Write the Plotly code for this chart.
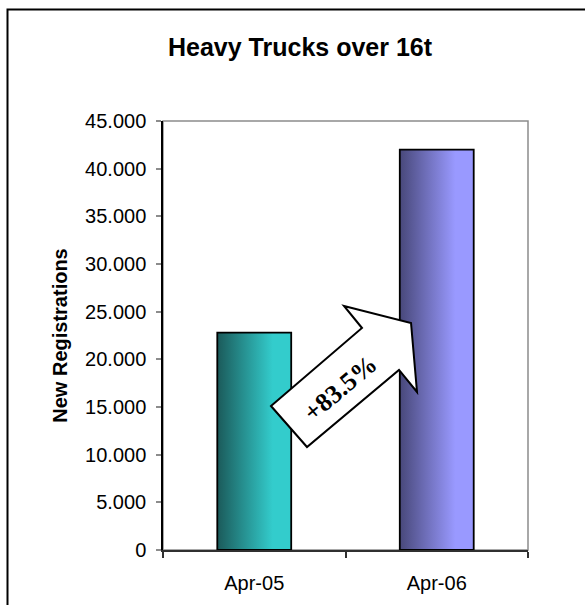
import plotly.graph_objects as go

categories = ["Apr-05", "Apr-06"]
values = [22800, 42000]
y_ticks = [0, 5000, 10000, 15000, 20000, 25000, 30000, 35000, 40000, 45000]
growth_label = "+83.5%"
title_text = "Heavy Trucks over 16t"
y_title = "New Registrations"

dark_colors = ["#1b5a5a", "#48487a"]
light_colors = ["#33cccc", "#9999ff"]

W, H = 585, 605
L, R, T, B = 163, 528, 121, 550


def px(x):
    return (x - L) / (R - L)


def py(y):
    return (B - y) / (B - T)


bar_w = 0.405
xs = list(range(len(categories)))

fig = go.Figure()

fig.add_trace(go.Bar(
    x=xs, y=values, width=bar_w,
    marker=dict(color="rgba(0,0,0,0)", line=dict(width=0)),
    showlegend=False,
))

# gradient-filled bars with outlines, built from the data values
for i, v in enumerate(values):
    fig.add_trace(go.Scatter(
        x=[xs[i] - bar_w / 2, xs[i] + bar_w / 2, xs[i] + bar_w / 2, xs[i] - bar_w / 2, xs[i] - bar_w / 2],
        y=[0, 0, v, v, 0],
        mode="lines", line=dict(width=1.8, color="#000000"), fill="toself",
        fillgradient=dict(type="horizontal",
                          colorscale=[[0, dark_colors[i]], [0.75, light_colors[i]], [1, light_colors[i]]]),
        hoverinfo="skip", showlegend=False,
    ))

# arrow
arrow_pts = [(271, 406), (362, 328), (344, 306), (411, 323), (417, 392), (399, 370), (307, 447)]
path = "M " + " L ".join(f"{px(a):.4f},{py(b):.4f}" for a, b in arrow_pts) + " Z"

shapes = [
    dict(type="rect", xref="paper", yref="paper", x0=0, y0=0, x1=1, y1=1,
         line=dict(color="#8c8c8c", width=1.5), layer="below"),
    dict(type="path", xref="paper", yref="paper", path=path,
         line=dict(color="#000000", width=2), fillcolor="#ffffff", layer="above"),
    dict(type="rect", xref="paper", yref="paper", x0=px(7.5), y0=py(9.5), x1=px(640), y1=py(660),
         line=dict(color="#000000", width=2), layer="above"),
]

fig.update_layout(
    width=W, height=H,
    margin=dict(l=L, r=W - R, t=T, b=H - B, autoexpand=False),
    paper_bgcolor="#ffffff", plot_bgcolor="#ffffff",
    separators=",.",
    font=dict(family="Liberation Sans, Arial, sans-serif", color="#000000", size=20),
    title=dict(text="<b>" + title_text + "</b>", x=px(300), xref="paper", xanchor="center",
               y=1 - 47 / H, yref="container", yanchor="middle",
               font=dict(size=25, family="Liberation Sans, Arial, sans-serif")),
    shapes=shapes,
    bargap=0,
    xaxis=dict(range=[-0.5, 1.5], tickvals=xs, ticktext=categories, ticks="",
               showgrid=False, zeroline=False, showline=True, linecolor="#303030", linewidth=2,
               ticklabelstandoff=14,
               minor=dict(tickvals=[-0.5, 0.5, 1.5], ticks="outside", ticklen=6,
                          tickcolor="#303030", tickwidth=1.5, showgrid=False)),
    yaxis=dict(range=[0, 45000], tickvals=y_ticks, tickformat=",d", ticks="outside",
               ticklen=5, tickcolor="#8c8c8c", tickwidth=1.5,
               showgrid=False, zeroline=False, showline=True, linecolor="#000000", linewidth=1.5,
               ticklabelstandoff=6,
               title=dict(text="<b>" + y_title + "</b>", standoff=12,
                          font=dict(size=20))),
    annotations=[dict(text="<b>" + growth_label + "</b>", xref="paper", yref="paper",
                      x=px(340), y=py(388), showarrow=False, textangle=-40,
                      font=dict(family="Liberation Serif, Times New Roman, serif", size=26,
                                color="#000000"))],
)

fig.write_html("out.html", config={"displayModeBar": False},
               post_script="document.body.style.margin='0px';document.body.style.overflow='hidden';")
